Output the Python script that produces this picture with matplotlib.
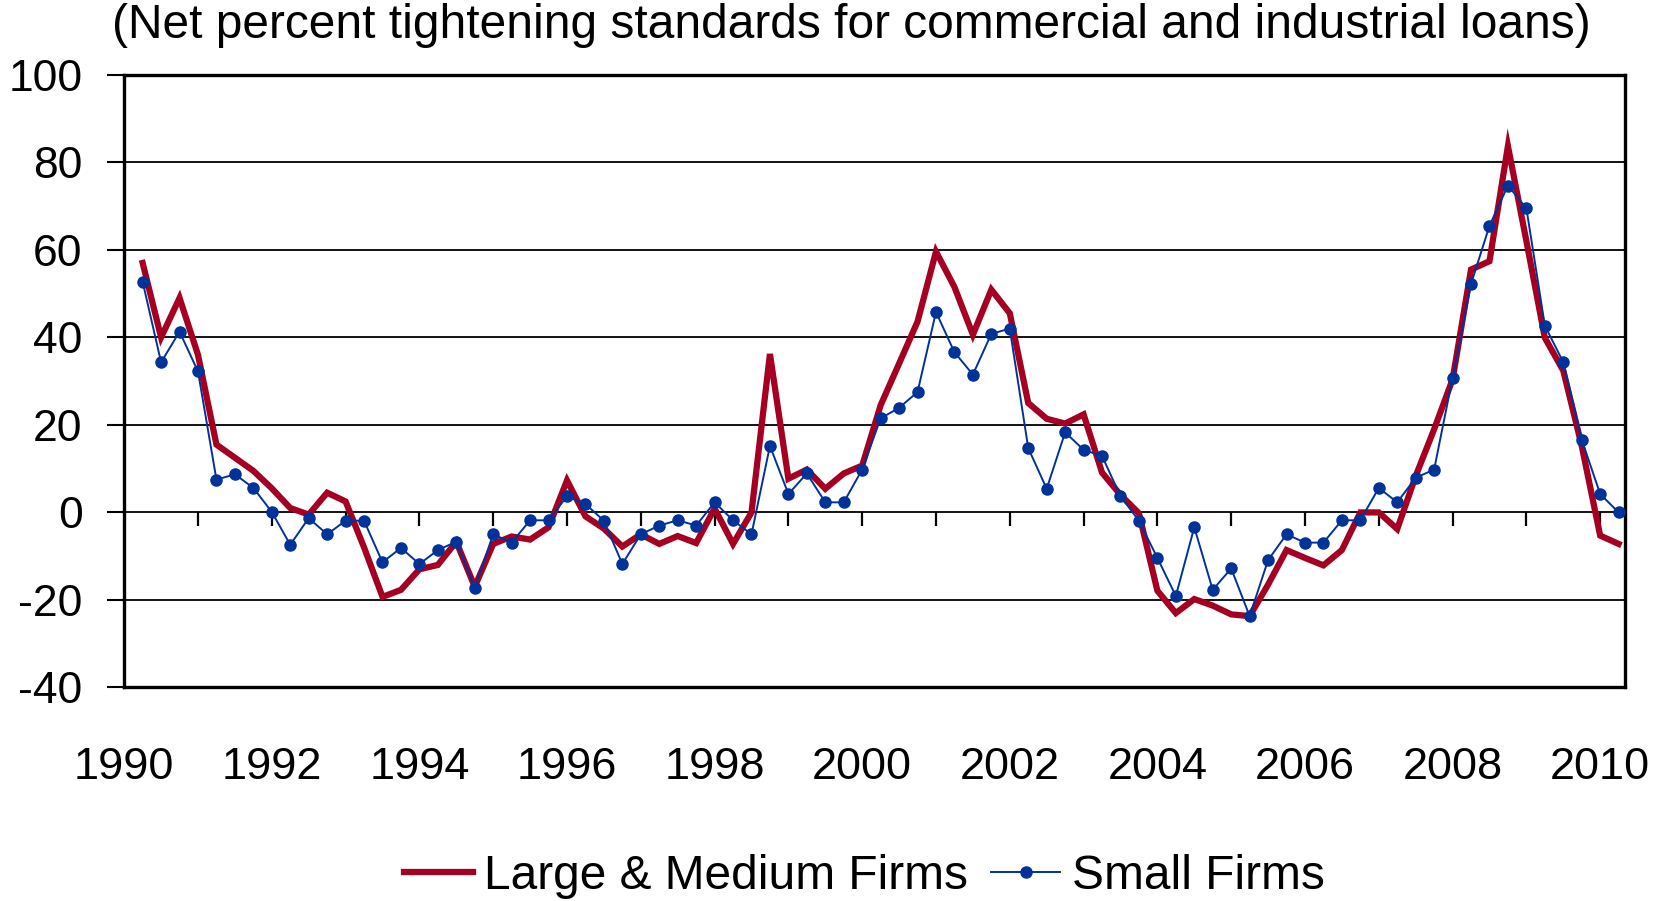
import matplotlib
matplotlib.use("Agg")
import matplotlib.pyplot as plt
import numpy as np

plt.rcParams['font.family'] = ['Liberation Sans', 'DejaVu Sans']
plt.rcParams['axes.unicode_minus'] = False

# quarterly observations, 1990Q2 .. 2010Q2 (decimal years)
quarters = 1990.25 + 0.25 * np.arange(81)

large_medium = [57, 40, 49, 36, 15.5, 12.5, 9.5, 5.5, 1, -0.5,
                4.5, 2.5, -8, -19.3, -17.7, -13, -12, -6.7, -17, -7.2,
                -5.5, -6.2, -3.4, 7.3, -0.9, -3.7, -7.8, -5, -7.2, -5.4,
                -7, 0.9, -7.2, 0, 36.2, 7.7, 9.8, 5.4, 8.9, 10.7,
                24.5, 34, 43.6, 59.6, 51.5, 40.6, 50.9, 45.5, 25, 21.4,
                20.3, 22.4, 9.1, 4, -0.2, -17.9, -23, -19.8, -21.3, -23.3,
                -23.7, -16.5, -8.6, -10.4, -12.1, -8.6, 0, 0, -3.8, 8.3,
                19, 30.4, 55.5, 57.4, 83.7, 62, 39.9, 32.4, 15.2, -5.3,
                -7.2]

small = [52.7, 34.3, 41.3, 32.2, 7.5, 8.7, 5.6, 0.1, -7.4, -1.3,
         -5, -1.9, -1.9, -11.4, -8.1, -11.8, -8.6, -6.7, -17.2, -5,
         -6.9, -1.8, -1.8, 3.7, 1.9, -1.9, -11.8, -5, -3, -1.8,
         -3, 2.3, -1.8, -5, 15.2, 4.2, 8.9, 2.3, 2.3, 9.8,
         21.5, 23.9, 27.5, 45.8, 36.6, 31.5, 40.8, 42, 14.7, 5.4,
         18.3, 14.3, 12.9, 3.7, -1.9, -10.4, -19.1, -3.4, -17.7, -12.8,
         -23.7, -10.9, -5, -6.9, -6.9, -1.8, -1.8, 5.6, 2.3, 7.9,
         9.8, 30.8, 52.2, 65.5, 74.7, 69.5, 42.7, 34.3, 16.6, 4.2,
         0]

year_labels = [1990, 1992, 1994, 1996, 1998, 2000, 2002, 2004, 2006, 2008, 2010]
y_ticks = [-40, -20, 0, 20, 40, 60, 80, 100]

red = "#A50021"
blue = "#003399"

fig = plt.figure(figsize=(16.56, 9.01), dpi=100)
ax = fig.add_axes([0.075, 0.237, 0.906, 0.680])

for y in y_ticks[1:-1]:
    ax.axhline(y, color="k", linewidth=1.3, zorder=1)

ax.plot(quarters, large_medium, color=red, linewidth=4.5, zorder=3,
        solid_joinstyle="miter", label="Large & Medium Firms")
ax.plot(quarters, small, color=blue, linewidth=1.4, marker="o",
        markersize=8, zorder=4, label="Small Firms")

ax.set_xlim(1990, 2010.33)
ax.set_ylim(-40, 100)
ax.set_yticks(y_ticks)
ax.set_yticklabels([str(v) for v in y_ticks])
ax.set_xticks(year_labels)
ax.set_xticklabels([str(v) for v in year_labels])
ax.tick_params(axis="x", length=0, pad=43, labelsize=32.5)
ax.tick_params(axis="y", direction="out", length=12, width=1.5, pad=18,
               labelsize=32)

for s in ax.spines.values():
    s.set_linewidth(2.4)

# yearly tick marks hanging below the zero line
zero_axis = ax.secondary_xaxis(0, transform=ax.transData)
zero_axis.set_xticks(np.arange(1991, 2011))
zero_axis.set_xticklabels([])
zero_axis.tick_params(direction="out", length=10, width=1.6)
zero_axis.spines["bottom"].set_visible(False)

fig.text(0.514, 0.972,
         "(Net percent tightening standards for commercial and industrial loans)",
         ha="center", va="center", fontsize=34.5)

fig.legend(loc="center", bbox_to_anchor=(0.522, 0.027), ncol=2, frameon=False,
           fontsize=34.5, handlelength=1.42, handletextpad=0.25,
           columnspacing=0.48)

fig.savefig("out.png", dpi=100)
